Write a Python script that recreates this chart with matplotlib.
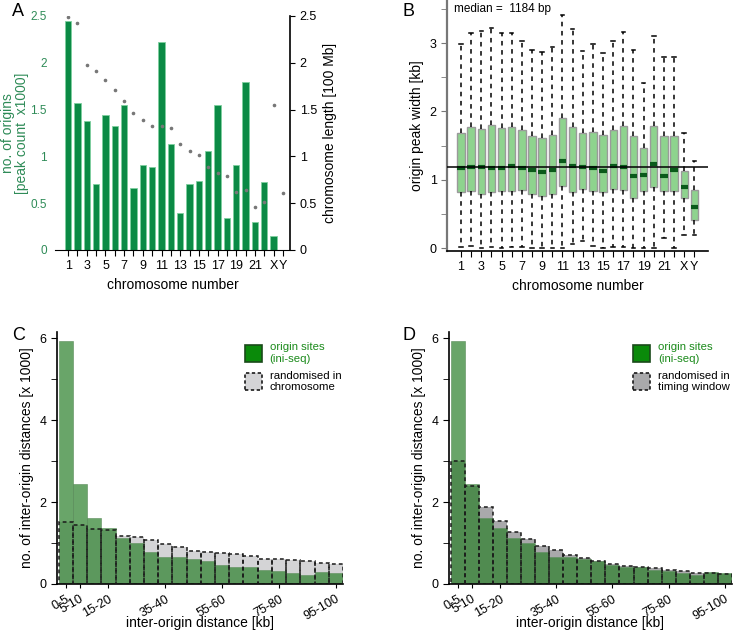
import matplotlib.pyplot as plt
import numpy as np
from matplotlib.patches import Patch
from matplotlib.ticker import MultipleLocator

plt.rcParams['font.family'] = ['Liberation Sans', 'DejaVu Sans']
plt.rcParams['font.size'] = 10

# panel A / B data
chrom = [str(i) for i in range(1, 23)] + ['X', 'Y']
origins = [2.45, 1.57, 1.38, 0.71, 1.44, 1.32, 1.55, 0.66, 0.91, 0.89, 2.22, 1.13,
           0.40, 0.71, 0.74, 1.06, 1.55, 0.34, 0.91, 1.80, 0.30, 0.73, 0.15, 0.0]
chrom_len = [2.49, 2.42, 1.98, 1.91, 1.82, 1.71, 1.59, 1.46, 1.39, 1.33, 1.32, 1.30,
             1.13, 1.06, 1.01, 0.89, 0.82, 0.79, 0.62, 0.64, 0.46, 0.51, 1.55, 0.61]

q1 = [0.82, 0.83, 0.79, 0.82, 0.83, 0.83, 0.85, 0.79, 0.76, 0.79, 0.91, 0.82,
      0.86, 0.83, 0.82, 0.86, 0.85, 0.74, 0.84, 0.90, 0.83, 0.84, 0.74, 0.42]
med = [1.18, 1.19, 1.19, 1.17, 1.18, 1.20, 1.18, 1.15, 1.12, 1.15, 1.27, 1.21,
       1.19, 1.18, 1.13, 1.20, 1.19, 1.05, 1.07, 1.23, 1.06, 1.15, 0.90, 0.61]
q3 = [1.69, 1.77, 1.75, 1.80, 1.76, 1.77, 1.73, 1.64, 1.61, 1.65, 1.91, 1.78,
      1.68, 1.70, 1.65, 1.73, 1.79, 1.64, 1.47, 1.79, 1.64, 1.64, 1.13, 0.85]
wlo = [0.02, 0.03, 0.01, 0.02, 0.01, 0.02, 0.02, 0.01, 0.01, 0.01, 0.01, 0.06,
       0.11, 0.03, 0.01, 0.02, 0.02, 0.01, 0.01, 0.01, 0.15, 0.01, 0.20, 0.19]
whi = [2.98, 3.15, 3.18, 3.22, 3.15, 3.15, 3.03, 2.90, 2.87, 2.95, 3.41, 3.20,
       2.89, 2.99, 2.85, 3.03, 3.16, 2.90, 2.42, 3.11, 2.79, 2.80, 1.68, 1.28]
overall_median = 1.184

# panel C / D data
bins = ['%d-%d' % (i, i + 5) for i in range(0, 100, 5)]
ori_dist = [5.92, 2.45, 1.62, 1.37, 1.12, 1.00, 0.77, 0.67, 0.67, 0.60,
            0.55, 0.46, 0.42, 0.41, 0.35, 0.32, 0.28, 0.23, 0.29, 0.26]
rand_chrom = [1.52, 1.43, 1.35, 1.32, 1.18, 1.15, 1.08, 0.98, 0.91, 0.80,
              0.78, 0.76, 0.74, 0.68, 0.62, 0.60, 0.58, 0.55, 0.52, 0.48]
rand_timing = [3.00, 2.38, 1.88, 1.53, 1.28, 1.09, 0.93, 0.84, 0.70, 0.64,
               0.55, 0.50, 0.45, 0.42, 0.38, 0.35, 0.32, 0.27, 0.28, 0.25]
shown_bins = ['0-5', '5-10', '15-20', '35-40', '55-60', '75-80', '95-100']

W, H = 736, 637
fig = plt.figure(figsize=(W / 100, H / 100), dpi=100)


def px_axes(l, t, r, b):
    return fig.add_axes([l / W, 1 - b / H, (r - l) / W, (b - t) / H])


green_a = '#0b8a45'
label_green = '#2e8b57'

# ---- A
ax = px_axes(55, 16, 290, 250)
pos = np.arange(1, 25)
ax.bar(pos, origins, width=0.68, color=green_a, edgecolor='#7fcf9f', linewidth=0.6)
ax.set_xlim(-0.4, 24.75)
ax.set_ylim(0, 2.5)
ax.set_yticks([0, 0.5, 1, 1.5, 2, 2.5])
ax.set_yticklabels(['0', '0.5', '1', '1.5', '2', '2.5'], color=label_green, fontsize=8.5)
ax.tick_params(axis='y', length=0, pad=6)
ax.spines[['left', 'top', 'right']].set_visible(False)
ax.set_xticks(pos)
ax.set_xticklabels([c if (i % 2 == 0 or i >= 22) else '' for i, c in enumerate(chrom)], fontsize=9)
ax.tick_params(axis='x', length=4)
ax.set_ylabel('no. of origins\n[peak count  x1000]', color=label_green, linespacing=1.0)
ax.yaxis.set_label_coords(-26 / 235, 0.5)
ax.set_xlabel('chromosome number')
ax2 = ax.twinx()
ax2.plot(pos, chrom_len, 'o', ms=1.6, color='#777777')
ax2.set_ylim(0, 2.5)
ax2.set_yticks([0, 0.5, 1, 1.5, 2, 2.5])
ax2.set_yticklabels(['0', '0.5', '1', '1.5', '2', '2.5'], fontsize=9)
ax2.spines[['left', 'top', 'bottom']].set_visible(False)
ax2.spines['right'].set_linewidth(1.2)
ax2.set_ylabel('chromosome length [100 Mb]')
fig.text(12 / W, 1 - 12 / H, 'A', fontsize=13, va='center')

# ---- B
bx = px_axes(447, 0, 708, 251)
stats = [dict(q1=q1[i], med=med[i], q3=q3[i], whislo=wlo[i], whishi=whi[i], fliers=[])
         for i in range(len(chrom))]
bx.bxp(stats, positions=pos, widths=0.72, patch_artist=True,
       boxprops=dict(facecolor='#8ed38e', edgecolor='#9a9a9a', linewidth=1.0),
       medianprops=dict(color='#0a5a1a', linewidth=3, solid_capstyle='butt'),
       whiskerprops=dict(color='black', linestyle=(0, (3, 3)), linewidth=1.1),
       capprops=dict(color='black', linewidth=1.1), capwidths=0.35)
bx.axhline(overall_median, color='black', linewidth=1.1, zorder=5)
bx.set_xlim(-0.38, 25.35)
bx.set_ylim(-0.04, 3.63)
bx.set_xticks(pos)
bx.set_xticklabels([c if (i % 2 == 0 or i >= 22) else '' for i, c in enumerate(chrom)], fontsize=9)
bx.set_yticks([0, 1, 2, 3])
bx.yaxis.set_minor_locator(MultipleLocator(0.5))
bx.tick_params(axis='y', which='both', length=4, color='#777777', labelsize=9)
bx.tick_params(axis='x', length=4)
bx.spines[['top', 'right']].set_visible(False)
bx.spines['left'].set_color('#777777')
bx.spines['left'].set_linewidth(1.6)
bx.spines['bottom'].set_linewidth(1.2)
bx.set_xlabel('chromosome number')
bx.set_ylabel('origin peak width [kb]')
bx.text(0.025, 0.99, 'median =  1184 bp', transform=bx.transAxes, fontsize=8.5, va='top')
fig.text(403 / W, 1 - 12 / H, 'B', fontsize=13, va='center')


# ---- C and D
def dist_panel(ax, rand, gray, rand_label):
    x = np.arange(len(bins))
    ax.bar(x, rand, width=1, color=gray, linewidth=0, zorder=1)
    ax.bar(x, ori_dist, width=1, color='#2a7f2a', alpha=0.7, edgecolor='#5f8f5f',
           linewidth=0.6, zorder=2)
    ax.bar(x, rand, width=1, fill=False, edgecolor='#1a1a1a', linestyle=(0, (2.5, 2)),
           linewidth=1.1, zorder=3)
    ax.set_xlim(-0.62, 19.5)
    ax.set_ylim(0, 6.15)
    ax.set_yticks([0, 2, 4, 6])
    ax.yaxis.set_minor_locator(MultipleLocator(1))
    ax.tick_params(axis='y', which='both', length=4, labelsize=9)
    ticks = [bins.index(b) for b in shown_bins]
    ax.set_xticks(ticks)
    ax.set_xticklabels(shown_bins, rotation=30, ha='right', rotation_mode='anchor', fontsize=9)
    ax.tick_params(axis='x', length=3)
    ax.spines[['top', 'right']].set_visible(False)
    ax.spines['left'].set_linewidth(1.2)
    ax.spines['bottom'].set_linewidth(1.2)
    ax.set_xlabel('inter-origin distance [kb]')
    ax.xaxis.set_label_coords(0.5, -0.125)
    ax.set_ylabel('no. of inter-origin distances [x 1000]')
    handles = [Patch(facecolor='#0a8a0a', edgecolor='#1a4a1a', linewidth=1.2),
               Patch(facecolor=gray, edgecolor='#1a1a1a', linestyle=(0, (2, 1.5)), linewidth=1.2)]
    leg = ax.legend(handles, ['origin sites\n(ini-seq)', rand_label], loc='upper right',
                    bbox_to_anchor=(1.03, 1.0), frameon=False, fontsize=8.2,
                    handlelength=1.5, handleheight=1.9, handletextpad=0.7,
                    labelspacing=0.6)
    leg.get_texts()[0].set_color('#1a8a1a')


cx = px_axes(57, 332, 343, 584)
dist_panel(cx, rand_chrom, '#d4d4d6', 'randomised in\nchromosome')
fig.text(12 / W, 1 - 336 / H, 'C', fontsize=13, va='center')

dx = px_axes(449, 332, 732, 584)
dist_panel(dx, rand_timing, '#a9a9ab', 'randomised in\ntiming window')
fig.text(403 / W, 1 - 336 / H, 'D', fontsize=13, va='center')

fig.savefig('out.png', dpi=100)
